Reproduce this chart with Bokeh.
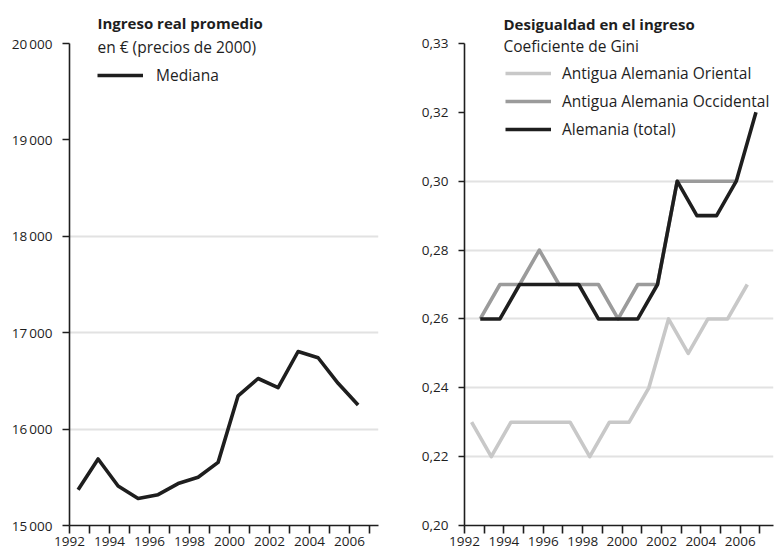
from bokeh.plotting import figure
from bokeh.layouts import row
from bokeh.models import ColumnDataSource, Range1d, FixedTicker, Label, Legend, LegendItem
from bokeh.transform import dodge
from bokeh.embed import file_html
from bokeh.resources import INLINE

# ---------------- data ----------------
years = list(range(1992, 2007))
median_income = [15370, 15690, 15410, 15280, 15320, 15435, 15500, 15655,
                 16345, 16525, 16430, 16805, 16740, 16475, 16250]

income_ticks = [15000, 16000, 17000, 18000, 19000, 20000]
income_tick_labels = ["15\u2009000", "16\u2009000", "17\u2009000", "18\u2009000", "19\u2009000", "20\u2009000"]
income_grid = [16000, 17000, 18000]

year_ticks = list(range(1992, 2007, 2))
year_minor_ticks = list(range(1993, 2008, 2))

gini_years_west = list(range(1992, 2006))
gini_east = [0.23, 0.22, 0.23, 0.23, 0.23, 0.23, 0.22, 0.23, 0.23, 0.24, 0.26, 0.25, 0.26, 0.26, 0.27]
gini_west = [0.26, 0.27, 0.27, 0.28, 0.27, 0.27, 0.27, 0.26, 0.27, 0.27, 0.30, 0.30, 0.30, 0.30]
gini_total = [0.26, 0.26, 0.27, 0.27, 0.27, 0.27, 0.26, 0.26, 0.26, 0.27, 0.30, 0.29, 0.29, 0.30, 0.32]

gini_ticks = [0.20, 0.22, 0.24, 0.26, 0.28, 0.30, 0.32, 0.34]
gini_tick_labels = ["0,20", "0,22", "0,24", "0,26", "0,28", "0,30", "0,32", "0,33"]
gini_grid = [0.22, 0.24, 0.26, 0.28, 0.30]

FONT = "Open Sans"
DARK = "#1e1e1e"
GRID = "#e2e2e2"

FIG_W = 388
FIG_H = 556
BORDER_BOTTOM = 31
AXIS_H = 482          # pixel length of the drawn y axis
FRAME_H = FIG_H - BORDER_BOTTOM


def top_of(lo, hi):
    # extend the range above the axis so that title/legend sit in the frame
    return lo + (hi - lo) * FRAME_H / AXIS_H


def style(p, ytick_out, ystandoff, bounds):
    p.outline_line_color = None
    p.xgrid.visible = False
    p.ygrid.grid_line_color = GRID
    p.ygrid.grid_line_width = 2
    for ax in (p.xaxis[0], p.yaxis[0]):
        ax.axis_line_color = DARK
        ax.axis_line_width = 1.6
        ax.major_tick_line_color = DARK
        ax.major_tick_line_width = 1.6
        ax.minor_tick_line_color = DARK
        ax.minor_tick_line_width = 1.6
        ax.major_label_text_font = FONT
        ax.major_label_text_font_size = "13.5px"
        ax.major_label_text_color = DARK
    xa = p.xaxis[0]
    xa.ticker = FixedTicker(ticks=year_ticks, minor_ticks=year_minor_ticks)
    xa.major_tick_in = 0
    xa.major_tick_out = 8
    xa.minor_tick_in = 0
    xa.minor_tick_out = 8
    xa.major_label_standoff = 3
    ya = p.yaxis[0]
    ya.bounds = bounds
    ya.major_tick_in = 0
    ya.major_tick_out = ytick_out
    ya.minor_tick_line_color = None
    ya.major_label_standoff = ystandoff


def add_text(p, x, y, text, bold=False):
    p.add_layout(Label(x=x, y=y, x_units="screen", y_units="screen", text=text,
                       text_font=FONT, text_font_size="15px" if bold else "15.5px",
                       text_font_style="bold" if bold else "normal",
                       text_color=DARK, text_baseline="alphabetic"))


def make_legend(items, loc, standoff):
    return Legend(items=items, location=loc, padding=0, margin=0, spacing=6,
                  glyph_width=46, glyph_height=20, label_height=20,
                  label_standoff=standoff, label_text_font=FONT,
                  label_text_font_size="15.5px", label_text_color=DARK,
                  background_fill_alpha=0, border_line_color=None)


# ---------------- left: income ----------------
p1 = figure(width=FIG_W, height=FIG_H, output_backend="svg", toolbar_location=None,
            x_range=Range1d(1992, 2007.45),
            y_range=Range1d(income_ticks[0], top_of(income_ticks[0], income_ticks[-1])),
            min_border_left=69, min_border_right=10, min_border_top=0,
            min_border_bottom=BORDER_BOTTOM)
style(p1, 7, 10, (income_ticks[0], income_ticks[-1]))
p1.yaxis[0].ticker = FixedTicker(ticks=income_ticks)
p1.yaxis[0].major_label_overrides = dict(zip(income_ticks, income_tick_labels))
p1.ygrid.ticker = FixedTicker(ticks=income_grid)

src1 = ColumnDataSource(dict(year=years, value=median_income))
r_med = p1.line(x=dodge("year", 0.43), y="value", source=src1,
                line_color=DARK, line_width=3.6, line_join="round")

add_text(p1, 28, 503, "Ingreso real promedio", bold=True)
add_text(p1, 28, 479, "en € (precios de 2000)")
p1.add_layout(make_legend([LegendItem(label="Mediana", renderers=[r_med])], (28, 439), 13))

# ---------------- right: Gini ----------------
p2 = figure(width=FIG_W, height=FIG_H, output_backend="svg", toolbar_location=None,
            x_range=Range1d(1992, 2007.69),
            y_range=Range1d(gini_ticks[0], top_of(gini_ticks[0], gini_ticks[-1])),
            min_border_left=76, min_border_right=3, min_border_top=0,
            min_border_bottom=BORDER_BOTTOM)
style(p2, 6, 10, (gini_ticks[0], gini_ticks[-1]))
p2.yaxis[0].ticker = FixedTicker(ticks=gini_ticks)
p2.yaxis[0].major_label_overrides = dict(zip(gini_ticks, gini_tick_labels))
p2.ygrid.ticker = FixedTicker(ticks=gini_grid)

src_e = ColumnDataSource(dict(year=years, value=gini_east))
src_w = ColumnDataSource(dict(year=gini_years_west, value=gini_west))
src_t = ColumnDataSource(dict(year=years, value=gini_total))

r_e = p2.line(x=dodge("year", 0.36), y="value", source=src_e,
              line_color="#c8c8c8", line_width=3.6, line_join="round")
r_w = p2.line(x=dodge("year", 0.8), y="value", source=src_w,
              line_color="#9b9b9b", line_width=3.6, line_join="round")
r_t = p2.line(x=dodge("year", 0.8), y="value", source=src_t,
              line_color=DARK, line_width=3.6, line_join="round")

add_text(p2, 39, 502, "Desigualdad en el ingreso", bold=True)
add_text(p2, 39, 480, "Coeficiente de Gini")
p2.add_layout(make_legend([
    LegendItem(label="Antigua Alemania Oriental", renderers=[r_e]),
    LegendItem(label="Antigua Alemania Occidental", renderers=[r_w]),
    LegendItem(label="Alemania (total)", renderers=[r_t]),
], (41, 385), 11))

layout = row(p1, p2)
open("out.html", "w").write(file_html(layout, INLINE))
